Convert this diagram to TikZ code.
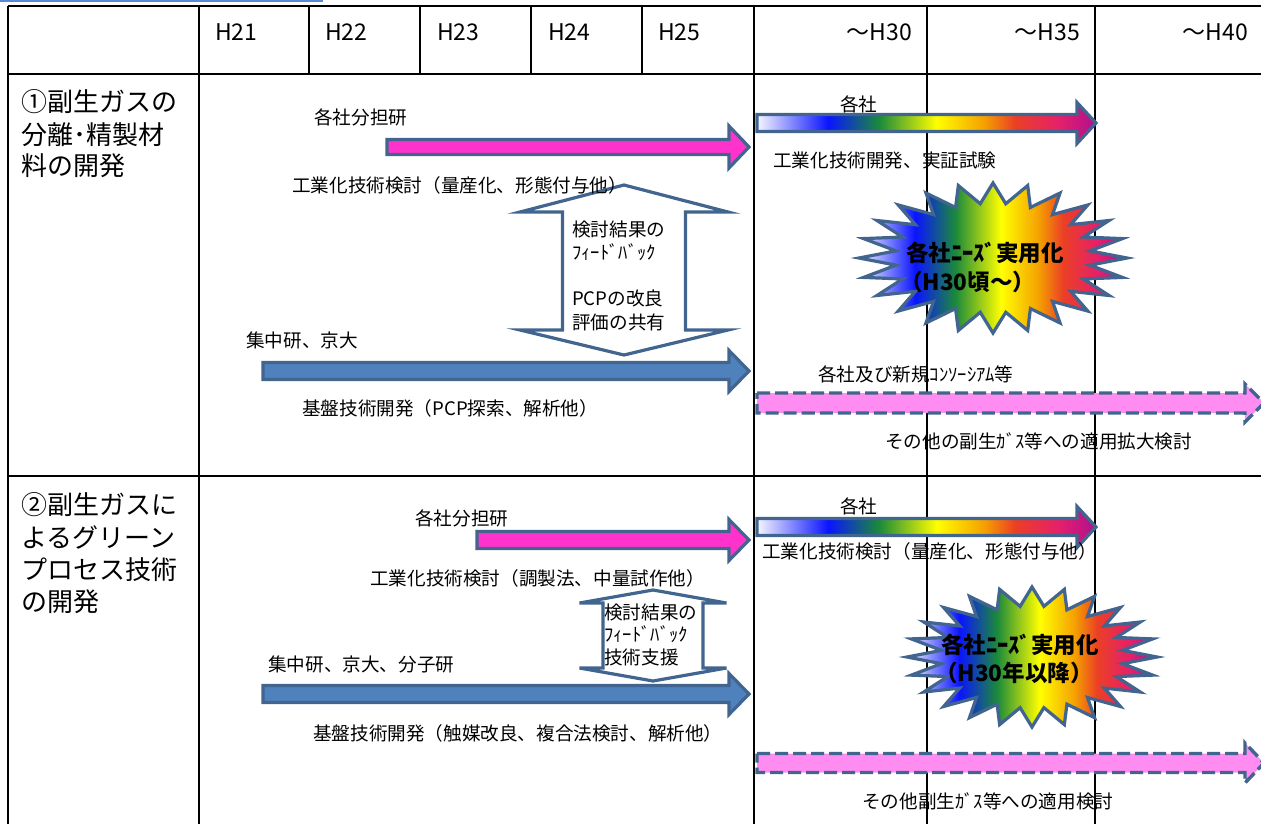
\documentclass[tikz,border=0pt]{standalone}
\usepackage{fontspec}
\setmainfont{Noto Sans CJK JP}
\definecolor{bord}{HTML}{41658F}
\definecolor{steel}{HTML}{4F81BD}
\definecolor{hotpink}{HTML}{FF33CC}
\definecolor{softpink}{HTML}{FF8CF0}
\definecolor{topblue}{HTML}{5A8AD0}
\definecolor{rb0}{HTML}{F6F6FF}
\definecolor{rb1}{HTML}{0A14FF}
\definecolor{rb2}{HTML}{1B8A3A}
\definecolor{rb3}{HTML}{FFFF00}
\definecolor{rb4}{HTML}{F5A000}
\definecolor{rb5}{HTML}{EB4025}
\definecolor{rb6}{HTML}{E5206A}
\definecolor{rb7}{HTML}{B0108F}
\pgfdeclarehorizontalshading{rainbow}{100bp}{color(0bp)=(rb0); color(25bp)=(rb0); color(35.5bp)=(rb1); color(43bp)=(rb2); color(51.5bp)=(rb3); color(58.5bp)=(rb4); color(63bp)=(rb5); color(69.5bp)=(rb6); color(75bp)=(rb7); color(100bp)=(rb7)}
% horizontal arrow: style, x0, x1, yc, half shaft, half head, head length
\newcommand\harr[7]{\path[#1] (#2,{#4-#5}) -- ({#3-#7},{#4-#5}) -- ({#3-#7},{#4-#6}) -- (#3,#4) -- ({#3-#7},{#4+#6}) -- ({#3-#7},{#4+#5}) -- (#2,{#4+#5}) -- cycle;}
% vertical double arrow: cx, top tip, top base, bottom base, bottom tip, head half, shaft half
\newcommand\vdarr[7]{\path[fbarrow] (#1,#2) -- ({#1+#6},#3) -- ({#1+#7},#3) -- ({#1+#7},#4) -- ({#1+#6},#4) -- (#1,#5) -- ({#1-#6},#4) -- ({#1-#7},#4) -- ({#1-#7},#3) -- ({#1-#6},#3) -- cycle;}
% starburst: cx, cy, rx, ry
\newcommand\burstshape[4]{\shadedraw[burst] ({#1+#3},#2) \foreach \i in {1,...,47}{ -- ({#1+ifthenelse(isodd(\i),0.73,1)*#3*cos(\i*7.5)},{#2+ifthenelse(isodd(\i),0.73,1)*#4*sin(\i*7.5)}) } -- cycle;}
\begin{document}
\begin{tikzpicture}[x=1pt,y=-1pt,
  grid/.style={draw=black,line width=2pt},
  hdr/.style={font=\fontsize{23}{25}\selectfont,inner sep=0pt},
  lab/.style={font=\fontsize{26}{28}\selectfont,inner sep=0pt,anchor=west},
  txt/.style={font=\fontsize{18.6}{20}\selectfont,inner sep=0pt,anchor=west},
  btxt/.style={font=\bfseries\fontsize{22.5}{24}\selectfont,inner sep=0pt,anchor=west},
  pinkarrow/.style={draw=bord,fill=hotpink,line width=3.2pt,line join=miter},
  bluearrow/.style={draw=bord,fill=steel,line width=3.2pt,line join=miter},
  gradarrow/.style={draw=bord,shade,shading=rainbow,line width=3.2pt,line join=miter},
  dasharrow/.style={draw=bord,fill=softpink,line width=3.4pt,dash pattern=on 13pt off 5pt,line join=miter},
  fbarrow/.style={draw=bord,fill=white,line width=3.2pt,line join=miter},
  burst/.style={draw=bord,shading=rainbow,line width=3.2pt,line join=miter}]
\useasboundingbox (0,0) rectangle (1261,823);
\begin{scope}
\clip (0,0) rectangle (1261,823);
% top blue line
\draw[topblue,line width=2pt] (0,1) -- (323,1);
% table grid
\draw[grid] (8,6) -- (1265,6);
\draw[grid] (8,74) -- (1265,74);
\draw[grid] (8,476) -- (1265,476);
\draw[grid] (8,6) -- (8,830);
\draw[grid] (199,6) -- (199,830);
\draw[grid] (754,6) -- (754,830);
\draw[grid] (927,6) -- (927,830);
\draw[grid] (1095,6) -- (1095,830);
\foreach \x in {309,420,531,642} \draw[grid] (\x,6) -- (\x,74);
% header
\node[hdr,anchor=west] (h21) at (215,32) {H21};
\node[hdr,anchor=west] (h22) at (325,32) {H22};
\node[hdr,anchor=west] (h23) at (437,32) {H23};
\node[hdr,anchor=west] (h24) at (548,32) {H24};
\node[hdr,anchor=west] (h25) at (658,32) {H25};
\node[hdr,anchor=east] (h30) at (912,32) {～H30};
\node[hdr,anchor=east] (h35) at (1080,32) {～H35};
\node[hdr,anchor=east] (h40) at (1248,32) {～H40};
% row labels
\node[lab] (l1a) at (21,102) {①副生ガスの};
\node[lab] (l1b) at (21,135) {分離･精製材};
\node[lab] (l1c) at (21,166) {料の開発};
\node[lab] (l2a) at (21,505) {②副生ガスに};
\node[lab] (l2b) at (21,537) {よるグリーン};
\node[lab] (l2c) at (21,570) {プロセス技術};
\node[lab] (l2d) at (21,602) {の開発};
% ===== row 1 =====
\harr{pinkarrow}{387}{749}{147}{7.5}{21}{20}
\harr{bluearrow}{263}{749}{371}{8.5}{20.5}{20}
\harr{gradarrow}{757}{1096}{123}{8.5}{20.5}{19}
\harr{dasharrow}{757}{1264}{403}{10}{19}{19}
\vdarr{624}{185}{212}{330}{355}{104}{61.5}
\burstshape{993}{258}{134}{75}
\node[txt] (r1a) at (314,117) {各社分担研};
\node[txt] (r1b) at (292,185) {工業化技術検討（量産化、形態付与他）};
\node[txt] (r1c) at (572,229) {検討結果の};
\node[txt] (r1d) at (572,252) {ﾌｨｰﾄﾞﾊﾞｯｸ};
\node[txt] (r1e) at (572,298) {PCPの改良};
\node[txt] (r1f) at (572,322) {評価の共有};
\node[txt] (r1g) at (246,340) {集中研、京大};
\node[txt] (r1h) at (302,408) {基盤技術開発（PCP探索、解析他）};
\node[txt] (r1i) at (840,104) {各社};
\node[txt] (r1j) at (773,160) {工業化技術開発、実証試験};
\node[btxt] (r1k) at (906,253) {各社ﾆｰｽﾞ実用化};
\node[btxt] (r1l) at (900,282) {（H30頃～）};
\node[txt] (r1m) at (818,374) {各社及び新規ｺﾝｿｰｼｱﾑ等};
\node[txt] (r1n) at (885,441) {その他の副生ｶﾞｽ等への適用拡大検討};
% ===== row 2 =====
\harr{pinkarrow}{477}{749}{540}{8.5}{20.5}{20}
\harr{bluearrow}{263}{749}{694}{8.5}{20.5}{20}
\harr{gradarrow}{757}{1096}{527}{8.5}{20.5}{19}
\harr{dasharrow}{757}{1264}{763}{9.5}{20}{19}
\vdarr{653}{590}{603}{668}{681}{73.5}{50}
\burstshape{1032}{657}{125}{70}
\node[txt] (r2a) at (415,518) {各社分担研};
\node[txt] (r2b) at (370,578) {工業化技術検討（調製法、中量試作他）};
\node[txt] (r2c) at (604,612) {検討結果の};
\node[txt] (r2d) at (604,634) {ﾌｨｰﾄﾞﾊﾞｯｸ};
\node[txt] (r2e) at (604,657) {技術支援};
\node[txt] (r2f) at (268,664) {集中研、京大、分子研};
\node[txt] (r2g) at (313,733) {基盤技術開発（触媒改良、複合法検討、解析他）};
\node[txt] (r2h) at (840,506) {各社};
\node[txt] (r2i) at (762,551) {工業化技術検討（量産化、形態付与他）};
\node[btxt] (r2j) at (941,645) {各社ﾆｰｽﾞ実用化};
\node[btxt] (r2k) at (935,673) {（H30年以降）};
\node[txt] (r2l) at (862,801) {その他副生ｶﾞｽ等への適用検討};
\end{scope}
\end{tikzpicture}
\end{document}
